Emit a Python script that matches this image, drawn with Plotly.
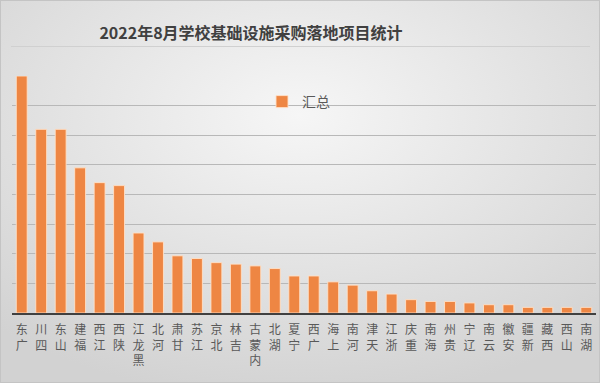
import base64
import plotly.graph_objects as go

# ---- data ----
provinces = ["广东", "四川", "山东", "福建", "江西", "陕西", "黑龙江", "河北", "甘肃", "江苏",
             "北京", "吉林", "内蒙古", "湖北", "宁夏", "广西", "上海", "河南", "天津", "浙江",
             "重庆", "海南", "贵州", "辽宁", "云南", "安徽", "新疆", "西藏", "山西", "湖南"]
totals = [80, 62, 62, 49, 44, 43, 27, 24, 19.3, 18.4,
          17, 16.5, 15.9, 15, 12.5, 12.5, 10.5, 9.4, 7.5, 6.4,
          4.5, 3.9, 3.9, 3.4, 2.8, 2.8, 1.9, 1.9, 1.9, 1.9]
series_name = "汇总"
title_text = "2022年8月学校基础设施采购落地项目统计"

# stacked (bottom-to-top) vertical labels
tick_text = ["<br>".join(reversed(list(p))) for p in provinces]

W, H = 600, 383
ml, mr, mt, mb = 12, 4, 76, 70
pw, ph = W - ml - mr, H - mt - mb

svg = f'''<svg xmlns="http://www.w3.org/2000/svg" width="{W}" height="{H}" viewBox="0 0 {W} {H}">
<defs><radialGradient id="g" cx="50%" cy="30%" r="75%">
<stop offset="0%" stop-color="#f6f6f6"/><stop offset="100%" stop-color="#d2d2d2"/></radialGradient></defs>
<rect x="0" y="0" width="{W}" height="{H}" fill="url(#g)"/>
<rect x="0.5" y="0.5" width="{W-1}" height="{H-1}" fill="none" stroke="#c4c4c4" stroke-width="1"/>
<line x1="11" y1="46.5" x2="590" y2="46.5" stroke="#d0d0d0" stroke-width="1"/>
</svg>'''
bg_src = "data:image/svg+xml;base64," + base64.b64encode(svg.encode("utf-8")).decode("ascii")

fig = go.Figure()
fig.add_trace(go.Bar(
    x=provinces, y=totals, name=series_name,
    marker=dict(color="#EE8643", line=dict(color="rgba(255,225,200,0.9)", width=1)),
    showlegend=True,
))

fig.update_layout(
    width=W, height=H,
    margin=dict(l=ml, r=mr, t=mt, b=mb, pad=0, autoexpand=False),
    paper_bgcolor="#e2e2e2",
    plot_bgcolor="rgba(0,0,0,0)",
    font=dict(family="Noto Sans CJK SC", color="#595959"),
    bargap=0.44,
    title=dict(text=f"<b>{title_text}</b>", x=251 / W, xanchor="center", xref="container",
               y=1 - 33 / H, yanchor="middle", yref="container",
               font=dict(family="Noto Sans CJK SC", size=16, color="#404040")),
    showlegend=True,
    legend=dict(x=(262 - ml) / pw, xanchor="left", y=(H - mb - 102) / ph, yanchor="middle",
                bgcolor="rgba(0,0,0,0)", font=dict(size=14, color="#595959"),
                borderwidth=0),
    xaxis=dict(
        tickmode="array", tickvals=provinces, ticktext=tick_text,
        tickfont=dict(size=12, color="#595959"), tickangle=0,
        showline=True, linecolor="#404040", linewidth=1.5,
        showgrid=False, ticks="", ticklabelstandoff=5, automargin=False,
    ),
    yaxis=dict(
        range=[0, 80], dtick=10, showticklabels=False,
        showgrid=True, gridcolor="#b8b8b8", gridwidth=1,
        zeroline=False, showline=False, ticks="", automargin=False,
    ),
    images=[dict(source=bg_src, xref="paper", yref="paper",
                 x=-ml / pw, y=1 + mt / ph, sizex=W / pw, sizey=H / ph,
                 xanchor="left", yanchor="top", sizing="stretch", layer="below")],
)

fig.write_html("out.html", config={"displayModeBar": False},
               post_script="document.body.style.margin='0';document.body.style.overflow='hidden';")
